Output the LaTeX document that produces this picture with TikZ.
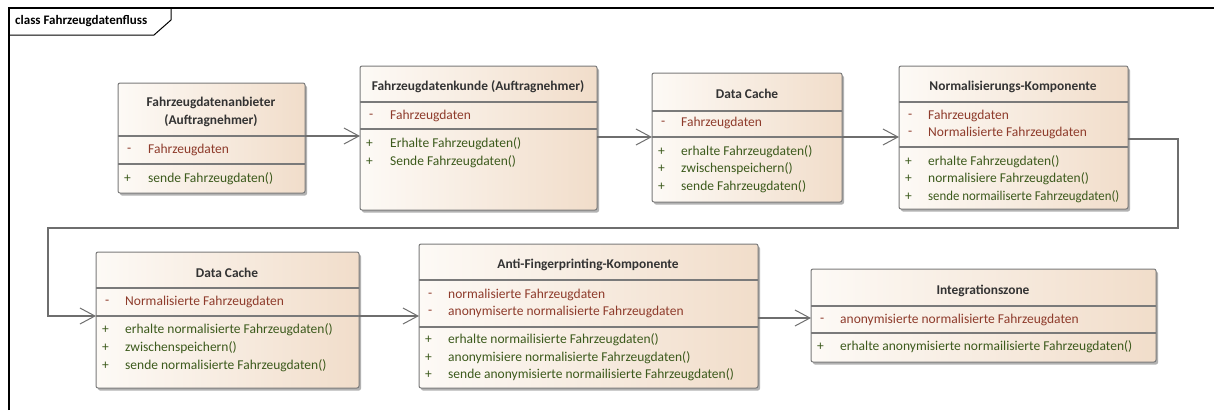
\documentclass[tikz,border=0pt]{standalone}
\usepackage{fontspec}
\setmainfont{Carlito}
\usepackage{xcolor}
\usepackage{tikz}
\usetikzlibrary{arrows.meta,shadows}
\definecolor{frame}{HTML}{000000}
\definecolor{boxl}{HTML}{FDFAF6}
\definecolor{boxr}{HTML}{F1DDCA}
\definecolor{edge}{HTML}{7A7A7A}
\definecolor{conn}{HTML}{6E6E6E}
\definecolor{titlec}{HTML}{333333}
\definecolor{attrc}{HTML}{8E3B2B}
\definecolor{methc}{HTML}{3C5A1C}
\tikzset{
  classbox/.style={draw=edge, line width=1pt, rounded corners=2pt, left color=boxl, right color=boxr,
    anchor=north west, inner sep=0pt, outer sep=0pt,
    drop shadow={shadow xshift=2pt, shadow yshift=-2.5pt, opacity=0.3, fill=black}},
  sepline/.style={draw=edge, line width=1.2pt},
  assoc/.style={draw=conn, line width=1.1pt, -{Straight Barb[length=15pt, width=16pt, line width=1pt]}},
  frameline/.style={draw=frame, line width=1.4pt},
  title/.style={text=titlec, font=\fontsize{13.4}{18}\selectfont\bfseries, align=center, inner sep=0pt},
  member/.style={anchor=west, inner sep=0pt, font=\fontsize{13.5}{15}\selectfont},
  attr/.style={member, text=attrc},
  meth/.style={member, text=methc},
}

\begin{document}
\begin{tikzpicture}[x=1pt, y=-1pt]
\useasboundingbox (0,0) rectangle (1214,410);

% frame of the diagram
\draw[frameline] (9,410) -- (9,8) -- (1214,8);
\draw[frameline, line width=1pt] (9,35) -- (154,35) -- (171,20) -- (171,8);
\node[anchor=west, inner sep=0pt, font=\fontsize{13}{15}\selectfont\bfseries] (framelab) at (15,21) {class Fahrzeugdatenfluss};

% Fahrzeugdatenanbieter
\node[classbox, minimum width=187pt, minimum height=110pt] (anbieter) at (118,83) {};
\draw[sepline] (anbieter.west |- 0,136) -- (anbieter.east |- 0,136);
\draw[sepline] (anbieter.west |- 0,164) -- (anbieter.east |- 0,164);
\node[title] at (211,112) {Fahrzeugdatenanbieter\\(Auftragnehmer)};
\node[attr] at (127,150) {-}; \node[attr] at (148,150) {Fahrzeugdaten};
\node[meth] at (124,179) {+}; \node[meth] at (148,179) {sende Fahrzeugdaten()};

% Fahrzeugdatenkunde
\node[classbox, minimum width=237pt, minimum height=144pt] (kunde) at (360,66) {};
\draw[sepline] (kunde.west |- 0,102) -- (kunde.east |- 0,102);
\draw[sepline] (kunde.west |- 0,129) -- (kunde.east |- 0,129);
\node[title] at (478,87) {Fahrzeugdatenkunde (Auftragnehmer)};
\node[attr] at (369,116) {-}; \node[attr] at (390,116) {Fahrzeugdaten};
\node[meth] at (366,144) {+}; \node[meth] at (390,144) {Erhalte Fahrzeugdaten()};
\node[meth] at (366,162) {+}; \node[meth] at (390,162) {Sende Fahrzeugdaten()};

% Data Cache (oben)
\node[classbox, minimum width=190pt, minimum height=129pt] (cacheA) at (652,73) {};
\draw[sepline] (cacheA.west |- 0,111) -- (cacheA.east |- 0,111);
\draw[sepline] (cacheA.west |- 0,137) -- (cacheA.east |- 0,137);
\node[title] at (747,94) {Data Cache};
\node[attr] at (661,123) {-}; \node[attr] at (681,123) {Fahrzeugdaten};
\node[meth] at (658,152) {+}; \node[meth] at (681,152) {erhalte Fahrzeugdaten()};
\node[meth] at (658,169) {+}; \node[meth] at (681,169) {zwischenspeichern()};
\node[meth] at (658,187) {+}; \node[meth] at (681,187) {sende Fahrzeugdaten()};

% Normalisierungs-Komponente
\node[classbox, minimum width=229pt, minimum height=143pt] (normal) at (899,66) {};
\draw[sepline] (normal.west |- 0,102) -- (normal.east |- 0,102);
\draw[sepline] (normal.west |- 0,147) -- (normal.east |- 0,147);
\node[title] at (1013,87) {Normalisierungs-Komponente};
\node[attr] at (908,116) {-}; \node[attr] at (928,116) {Fahrzeugdaten};
\node[attr] at (908,133) {-}; \node[attr] at (928,133) {Normalisierte Fahrzeugdaten};
\node[meth] at (905,162) {+}; \node[meth] at (928,162) {erhalte Fahrzeugdaten()};
\node[meth] at (905,179) {+}; \node[meth] at (928,179) {normalisiere Fahrzeugdaten()};
\node[meth] at (905,197) {+}; \node[meth] at (928,197) {\scalebox{0.95}[1]{sende normailiserte Fahrzeugdaten()}};

% Data Cache (unten)
\node[classbox, minimum width=263pt, minimum height=136pt] (cacheB) at (96,252) {};
\draw[sepline] (cacheB.west |- 0,288) -- (cacheB.east |- 0,288);
\draw[sepline] (cacheB.west |- 0,316) -- (cacheB.east |- 0,316);
\node[title] at (227,273) {Data Cache};
\node[attr] at (105,302) {-}; \node[attr] at (125,302) {Normalisierte Fahrzeugdaten};
\node[meth] at (102,330) {+}; \node[meth] at (125,330) {erhalte normalisierte Fahrzeugdaten()};
\node[meth] at (102,348) {+}; \node[meth] at (125,348) {zwischenspeichern()};
\node[meth] at (102,366) {+}; \node[meth] at (125,366) {sende normalisierte Fahrzeugdaten()};

% Anti-Fingerprinting-Komponente
\node[classbox, minimum width=339pt, minimum height=144pt] (anti) at (419,244) {};
\draw[sepline] (anti.west |- 0,280) -- (anti.east |- 0,280);
\draw[sepline] (anti.west |- 0,327) -- (anti.east |- 0,327);
\node[title] at (588,265) {Anti-Fingerprinting-Komponente};
\node[attr] at (428,295) {-}; \node[attr] at (448,295) {normalisierte Fahrzeugdaten};
\node[attr] at (428,312) {-}; \node[attr] at (448,312) {anonymiserte normalisierte Fahrzeugdaten};
\node[meth] at (425,340) {+}; \node[meth] at (448,340) {erhalte normailisierte Fahrzeugdaten()};
\node[meth] at (425,358) {+}; \node[meth] at (448,358) {anonymisiere normalisierte Fahrzeugdaten()};
\node[meth] at (425,375) {+}; \node[meth] at (448,375) {sende anonymisierte normailisierte Fahrzeugdaten()};

% Integrationszone
\node[classbox, minimum width=345pt, minimum height=93pt] (integ) at (811,269) {};
\draw[sepline] (integ.west |- 0,306) -- (integ.east |- 0,306);
\draw[sepline] (integ.west |- 0,333) -- (integ.east |- 0,333);
\node[title] at (983,291) {Integrationszone};
\node[attr] at (820,320) {-}; \node[attr] at (840,320) {anonymisierte normalisierte Fahrzeugdaten};
\node[meth] at (817,347) {+}; \node[meth] at (840,347) {erhalte anonymisierte normailisierte Fahrzeugdaten()};

% connectors
\coordinate (turnA) at (1178,139);
\coordinate (turnB) at (48,228);
\draw[assoc] (anbieter.east |- 0,136) -- (kunde.west |- 0,136);
\draw[assoc] (kunde.east |- 0,137) -- (cacheA.west |- 0,137);
\draw[assoc] (cacheA.east |- 0,137) -- (normal.west |- 0,137);
\draw[assoc] (normal.east |- turnA) -- (turnA) |- (turnB) |- (cacheB.west |- 0,316);
\draw[assoc] (cacheB.east |- 0,316) -- (anti.west |- 0,316);
\draw[assoc] (anti.east |- 0,318) -- (integ.west |- 0,318);
\end{tikzpicture}
\end{document}
